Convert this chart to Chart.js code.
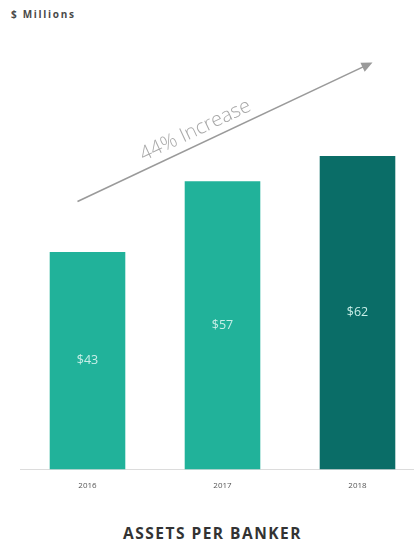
<!DOCTYPE html>
<html>
<head>
<meta charset="utf-8">
<script src="https://cdn.jsdelivr.net/npm/chart.js@4"></script>
<style>
  html, body { margin: 0; padding: 0; background: #fff; overflow: hidden; }
  body { width: 414px; height: 552px; position: relative; font-family: "Open Sans", sans-serif; }
  #unit { position: absolute; left: 11px; top: 7px; font-size: 10px; font-weight: 700; color: #4a4a4a; letter-spacing: 1.7px; }
  #wrap { position: absolute; left: 0; top: 0; width: 425px; height: 495px; }
  #title { position: absolute; left: 0; width: 425px; top: 522px; text-align: center; font-size: 15.5px; font-weight: 700; color: #333; letter-spacing: 1.5px; }
</style>
</head>
<body>
<div id="unit">$ Millions</div>
<div id="wrap"><canvas id="chart-assets"></canvas></div>
<div id="title">ASSETS PER BANKER</div>
<script>
/* assets per banker, $M */
const years = ['2016', '2017', '2018'];
const assets = [43, 57, 62];
const barColors = ['#21b29a', '#21b29a', '#0a6d67'];
const valueLabels = ['$43', '$57', '$62'];
const increaseText = '44% Increase';

// writes the $ value in the middle of each bar
const barLabels = {
    id: 'barLabels',
    afterDatasetsDraw(chart) {
        const ctx = chart.ctx;
        const meta = chart.getDatasetMeta(0);
        ctx.save();
        ctx.font = '12.5px "Open Sans", sans-serif';
        ctx.fillStyle = '#c9efe8';
        ctx.textAlign = 'center';
        ctx.textBaseline = 'middle';
        meta.data.forEach((bar, i) => {
            ctx.fillText(valueLabels[i], bar.x, (bar.y + bar.base) / 2);
        });
        ctx.restore();
    }
};

// grey arrow with the growth note, placed from the scales
const growthArrow = {
    id: 'growthArrow',
    afterDraw(chart) {
        const x = chart.scales.x, y = chart.scales.y;
        const x1 = x.getPixelForValue(0) - 10, y1 = y.getPixelForValue(53);
        const x2 = x.getPixelForValue(2) + 15, y2 = y.getPixelForValue(80.5);
        const ang = Math.atan2(y2 - y1, x2 - x1);
        const ctx = chart.ctx;
        ctx.save();
        ctx.strokeStyle = '#9a9a9a';
        ctx.fillStyle = '#9a9a9a';
        ctx.lineWidth = 1.6;
        ctx.beginPath();
        ctx.moveTo(x1, y1);
        ctx.lineTo(x2 - 8 * Math.cos(ang), y2 - 8 * Math.sin(ang));
        ctx.stroke();
        ctx.beginPath();
        ctx.moveTo(x2, y2);
        ctx.lineTo(x2 - 11 * Math.cos(ang) + 5 * Math.sin(ang), y2 - 11 * Math.sin(ang) - 5 * Math.cos(ang));
        ctx.lineTo(x2 - 11 * Math.cos(ang) - 5 * Math.sin(ang), y2 - 11 * Math.sin(ang) + 5 * Math.cos(ang));
        ctx.closePath();
        ctx.fill();
        // text sits above the line
        const tx = x1 + (x2 - x1) * 0.42, ty = y1 + (y2 - y1) * 0.42;
        ctx.translate(tx, ty);
        ctx.rotate(ang);
        ctx.font = '300 20px "Open Sans", sans-serif';
        ctx.fillStyle = '#a8a8a8';
        ctx.textAlign = 'center';
        ctx.textBaseline = 'bottom';
        ctx.fillText(increaseText, 0, -4);
        ctx.restore();
    }
};

new Chart(document.getElementById('chart-assets').getContext('2d'), {
    type: 'bar',
    data: {
        labels: years,
        datasets: [{ data: assets, backgroundColor: barColors, barPercentage: 0.56, categoryPercentage: 1 }]
    },
    options: {
        responsive: true,
        maintainAspectRatio: false,
        animation: false,
        layout: { padding: { left: 20, right: 0, top: 65, bottom: 0 } },
        plugins: { legend: { display: false }, tooltip: { enabled: false } },
        scales: {
            x: {
                grid: { display: false },
                border: { display: true, color: '#dcdcdc' },
                ticks: { color: '#555', font: { size: 8, family: '"Open Sans", sans-serif' }, padding: 4 }
            },
            y: { display: false, min: 0, max: 80 }
        }
    },
    plugins: [barLabels, growthArrow]
});
</script>
</body>
</html>
